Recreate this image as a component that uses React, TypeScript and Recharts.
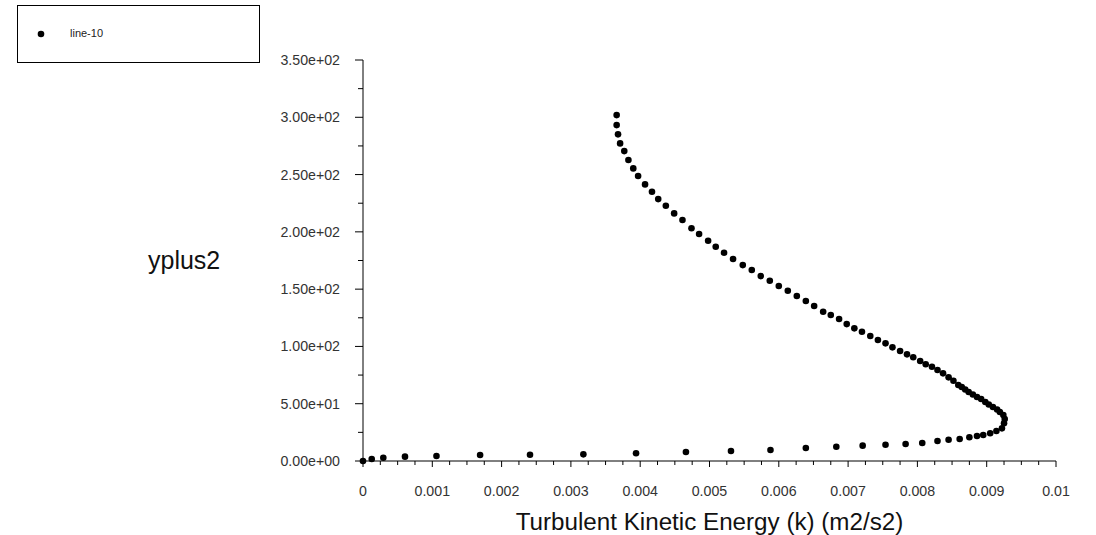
import React from 'react';
import { ScatterChart, Scatter, XAxis, YAxis, Legend } from 'recharts';

// turbulent kinetic energy k (m2/s2) along line-10, wall first
const kValues = [
  0, 0.000126, 0.000293, 0.000606, 0.00106, 0.00169, 0.00241, 0.00318, 0.00394, 0.00466,
  0.00531, 0.00588, 0.00639, 0.00683, 0.00721, 0.00754, 0.00783, 0.00807, 0.00829, 0.00845,
  0.00861, 0.00875, 0.00886, 0.00895, 0.00905, 0.00914, 0.00922, 0.00925, 0.00926, 0.00924,
  0.00919, 0.00915, 0.00909, 0.00903, 0.00898, 0.00892, 0.00886, 0.0088, 0.00874, 0.00869,
  0.00864, 0.00859, 0.00852, 0.00845, 0.00837, 0.00829, 0.00821, 0.00812, 0.00804, 0.00794,
  0.00785, 0.00775, 0.00764, 0.00754, 0.00743, 0.00732, 0.0072, 0.00709, 0.00698, 0.00687,
  0.00675, 0.00664, 0.00651, 0.00639, 0.00626, 0.00613, 0.006, 0.00587, 0.00574, 0.00561,
  0.00548, 0.00534, 0.00521, 0.00509, 0.00498, 0.00485, 0.00474, 0.00461, 0.00449, 0.00437,
  0.00426, 0.00417, 0.00407, 0.00397, 0.0039, 0.00383, 0.00377, 0.00371, 0.00368, 0.00366,
  0.00366,
];

const yplusValues = [
  0, 1.7, 2.9, 3.8, 4.4, 5.2, 5.4, 5.8, 6.7, 7.9,
  8.7, 9.6, 11.3, 12.5, 13.4, 14.2, 14.8, 15.7, 17.5, 18.6,
  19.2, 20.7, 21.8, 22.7, 24.2, 26.2, 28.5, 32.9, 36.6, 40.1,
  42.8, 44.9, 47.1, 49.3, 51.5, 54.1, 55.8, 58.0, 60.2, 62.4,
  64.6, 66.3, 70.1, 73.0, 76.5, 79.4, 82.3, 84.4, 87.3, 90.5,
  93.1, 96.0, 99.2, 102.7, 105.6, 109.1, 112.8, 115.8, 119.5, 123.9,
  127.4, 130.3, 135.3, 139.6, 144.0, 148.6, 152.7, 157.3, 161.4, 166.7,
  171.0, 176.3, 181.8, 187.0, 192.2, 198.1, 203.1, 210.3, 216.1, 222.8,
  228.6, 235.0, 241.4, 248.7, 255.4, 262.7, 270.5, 277.2, 285.1, 293.2,
  301.9,
];

const xMajorTicks = [0, 0.001, 0.002, 0.003, 0.004, 0.005, 0.006, 0.007, 0.008, 0.009, 0.01];
const xMinorTicks = [
  0.00025, 0.0005, 0.00075, 0.00125, 0.0015, 0.00175, 0.00225, 0.0025, 0.00275,
  0.00325, 0.0035, 0.00375, 0.00425, 0.0045, 0.00475, 0.00525, 0.0055, 0.00575,
  0.00625, 0.0065, 0.00675, 0.00725, 0.0075, 0.00775, 0.00825, 0.0085, 0.00875,
  0.00925, 0.0095, 0.00975,
];
const yMajorTicks = [0, 50, 100, 150, 200, 250, 300, 350];
const yMinorTicks = [25, 75, 125, 175, 225, 275, 325];

const data = kValues.map((k, i) => ({ k, yplus: yplusValues[i] }));

const FONT = '"Liberation Sans", Arial, sans-serif';

const fmtY = (v: number) => v.toExponential(2).replace(/e([+-])(\d)$/, 'e$10$2');

const YTick = (props: any) => {
  const { x, y, payload } = props;
  const major = yMajorTicks.includes(payload.value);
  return (
    <g>
      <line x1={x - (major ? 8 : 5)} x2={x} y1={y} y2={y} stroke="#000" />
      {major && (
        <text x={x - 23} y={y} dy={5} textAnchor="end" fontSize={14.2} fill="#333" fontFamily={FONT}>
          {fmtY(payload.value)}
        </text>
      )}
    </g>
  );
};

const XTick = (props: any) => {
  const { x, y, payload } = props;
  const major = xMajorTicks.includes(payload.value);
  return (
    <g>
      <line x1={x} x2={x} y1={y} y2={y + (major ? 6 : 4)} stroke="#000" />
      {major && (
        <text x={x} y={y} dy={35} textAnchor="middle" fontSize={14.2} fill="#333" fontFamily={FONT}>
          {String(payload.value)}
        </text>
      )}
    </g>
  );
};

const LegendBox = (props: any) => {
  const item = props.payload?.[0];
  return (
    <div style={{ width: 241, height: 56, border: '1px solid #000', background: '#fff', position: 'relative' }}>
      <svg width={12} height={12} style={{ position: 'absolute', left: 17, top: 22 }}>
        <circle cx={6} cy={6} r={3.3} fill="#000" />
      </svg>
      <span style={{ position: 'absolute', left: 52, top: 21, fontSize: 11, fontFamily: FONT, color: '#222' }}>
        {item ? item.value : 'line-10'}
      </span>
    </div>
  );
};

export default function App() {
  return (
    <div style={{ position: 'absolute', left: 0, top: 0, width: 1096, height: 535, background: '#fff' }}>
      <ScatterChart width={1096} height={535} margin={{ top: 60, right: 40, bottom: 0, left: 0 }}>
        <XAxis
          type="number"
          dataKey="k"
          domain={[0, 0.01]}
          ticks={[...xMajorTicks, ...xMinorTicks].sort((a, b) => a - b)}
          interval={0}
          height={74}
          tickSize={0}
          tickMargin={0}
          tickLine={false}
          tick={<XTick />}
          axisLine={{ stroke: '#000' }}
          label={{
            value: 'Turbulent Kinetic Energy (k) (m2/s2)',
            position: 'insideBottom',
            offset: 5,
            fontSize: 24.2,
            fill: '#111',
            fontFamily: FONT,
          }}
        />
        <YAxis
          type="number"
          dataKey="yplus"
          domain={[0, 350]}
          ticks={[...yMajorTicks, ...yMinorTicks].sort((a, b) => a - b)}
          interval={0}
          width={363}
          tickSize={0}
          tickMargin={0}
          tickLine={false}
          tick={<YTick />}
          axisLine={{ stroke: '#000' }}
          label={{
            value: 'yplus2',
            position: 'insideLeft',
            offset: 148,
            fontSize: 25,
            fill: '#111',
            fontFamily: FONT,
          }}
        />
        <Legend
          layout="vertical"
          align="center"
          verticalAlign="middle"
          wrapperStyle={{ left: 17, top: 5, width: 243, height: 58 }}
          content={<LegendBox />}
        />
        <Scatter
          name="line-10"
          data={data}
          fill="#000"
          isAnimationActive={false}
          shape={(p: any) => <circle cx={p.cx} cy={p.cy} r={3.3} fill="#000" />}
        />
      </ScatterChart>
    </div>
  );
}
